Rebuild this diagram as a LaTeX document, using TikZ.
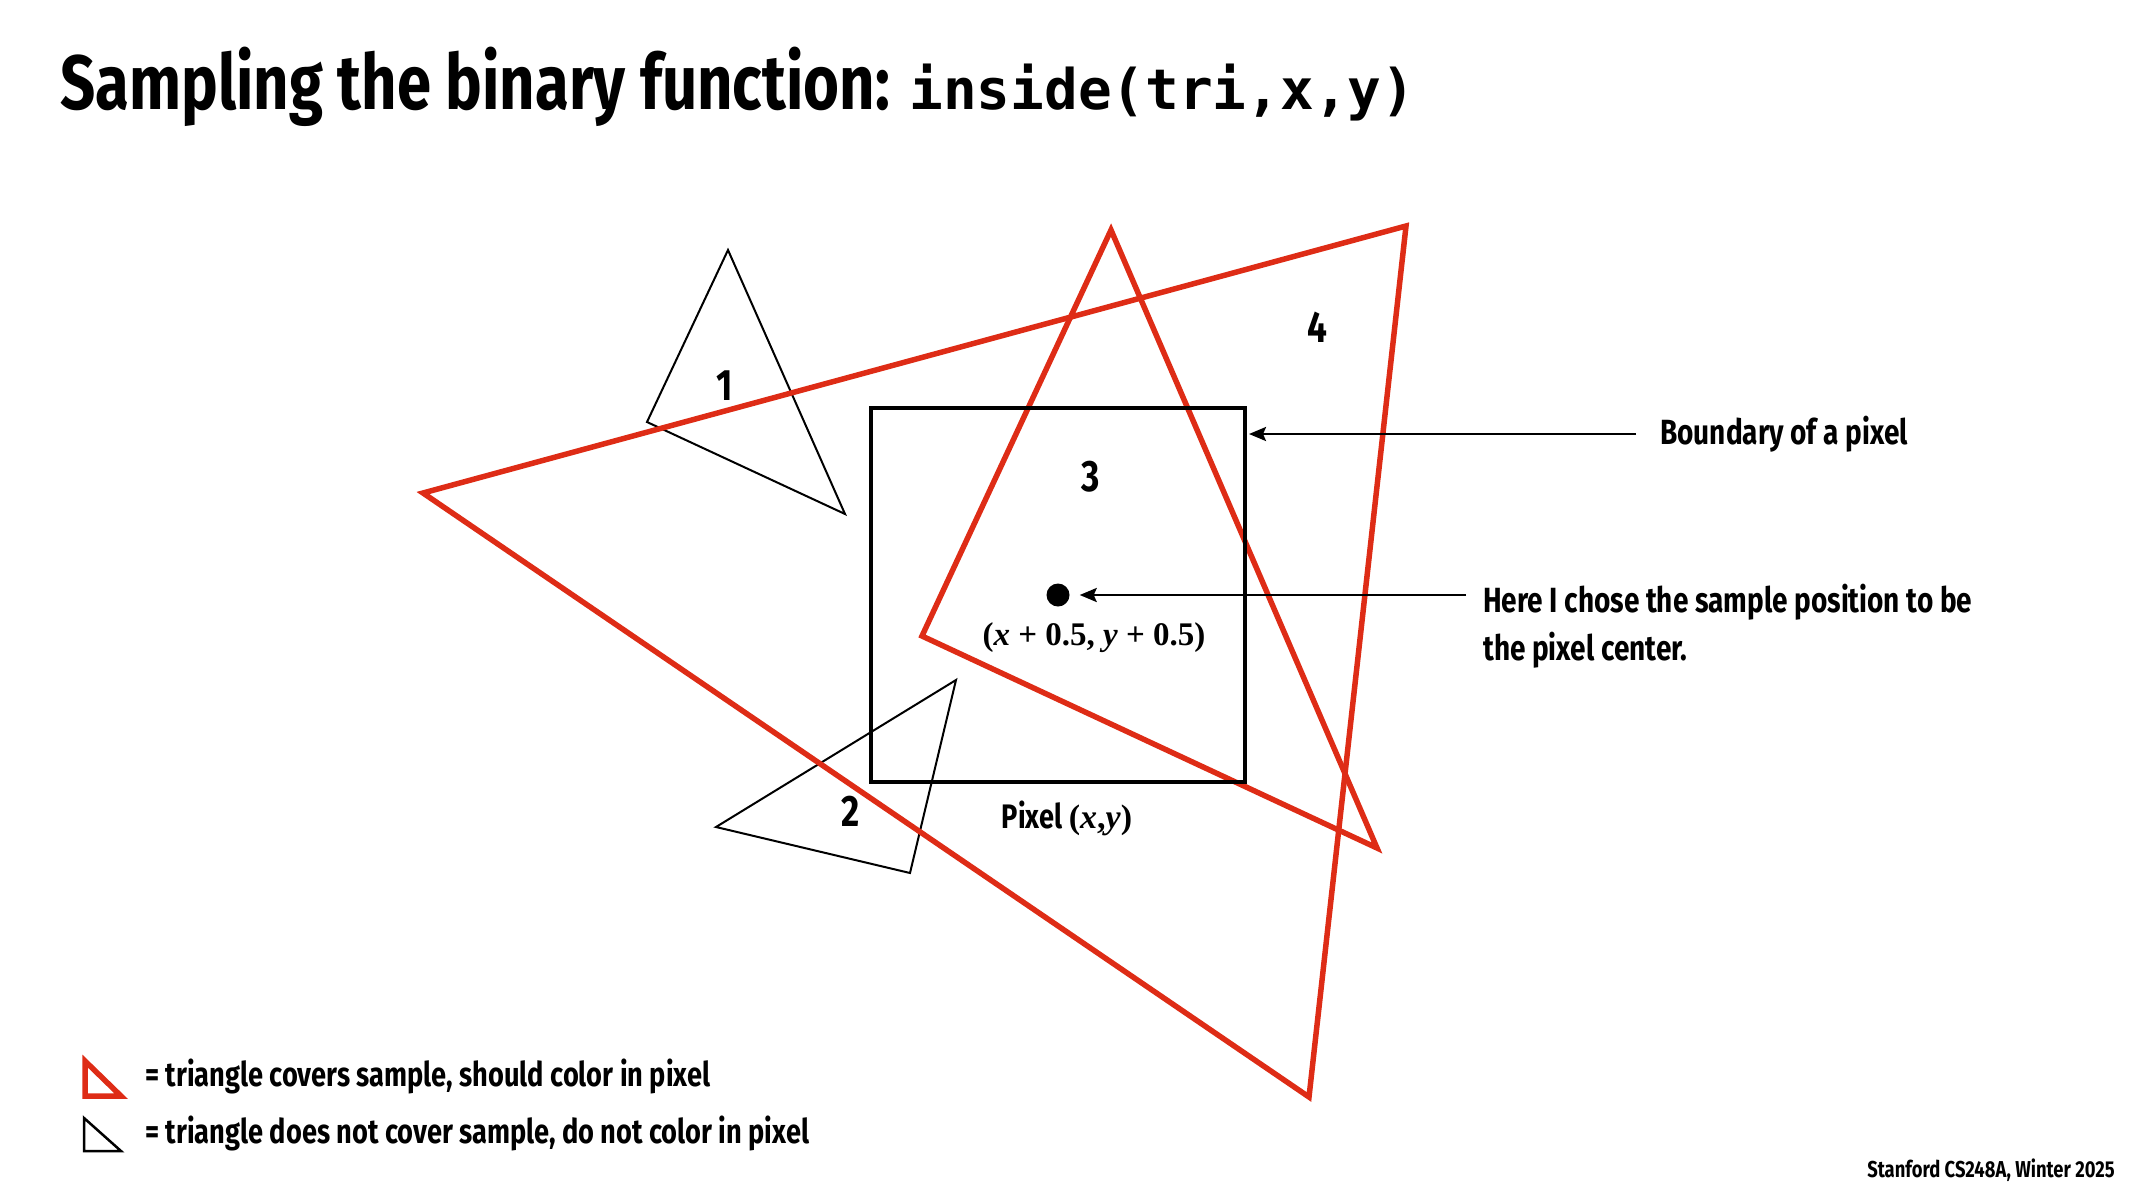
\documentclass[tikz,border=0pt]{standalone}
\usepackage{fontspec}
\setmainfont{Fira Sans}[FakeStretch=0.8]
\newfontfamily\codefont{DejaVu Sans Mono}
\newfontfamily\timesfont{Liberation Serif}
\usetikzlibrary{arrows.meta, positioning}
\definecolor{trired}{RGB}{222,44,22}

\begin{document}
\begin{tikzpicture}[x=1pt, y=-1pt,
    redtri/.style={draw=trired, line width=5.5pt},
    thintri/.style={draw=black, line width=2pt},
    arr/.style={-{Stealth[length=17pt, width=14pt, inset=3pt]}, line width=2.5pt},
    num/.style={font=\fontsize{44}{44}\selectfont\bfseries, inner sep=0pt},
    lbl/.style={font=\fontsize{35}{47.5}\selectfont\bfseries, align=left, inner sep=0pt},
    key/.style={font=\fontsize{34}{34}\selectfont\bfseries, inner sep=0pt, anchor=west},
    coord/.style={font=\timesfont\fontsize{33}{33}\selectfont\bfseries, inner sep=0pt}
]
\useasboundingbox (0,0) rectangle (2133,1200);

% title
\node[anchor=base west, inner sep=0pt, font=\fontsize{77}{80}\selectfont\bfseries] (title) at (60,109)
    {Sampling the binary function: {\codefont\fontsize{56}{56}\selectfont\bfseries inside(tri,x,y)}};

% triangles that miss the sample
\draw[thintri] (728,250) -- (647,422) -- (845,514) -- cycle;
\draw[thintri] (956,680) -- (716,827) -- (910,873) -- cycle;

% triangles that cover the sample
\draw[redtri] (423,493) -- (1406,226) -- (1309,1097) -- cycle;
\draw[redtri] (1111,230) -- (922,636) -- (1377,848) -- cycle;

% the pixel and its sample
\node[draw, line width=4pt, minimum size=374pt, inner sep=0pt] (pixel) at (1058,595) {};
\node[circle, fill, minimum size=23pt, inner sep=0pt] (sample) at (pixel.center) {};
\node[coord] (center) at (1094,638) {(\textit{x} + 0.5, \textit{y} + 0.5)};
\node[key, anchor=center] (pixlbl) at (1067,818) {Pixel {\timesfont(\textit{x},\textit{y})}};

\node[num] (n1) at (725,386) {1};
\node[num] (n2) at (851,811) {2};
\node[num] (n3) at (1091,477) {3};
\node[num] (n4) at (1317,327) {4};

% callouts
\node[lbl, anchor=west] (bnd) at (1660,434) {Boundary of a pixel};
\node[lbl, anchor=north west] (note) at (1483,584) {Here I chose the sample position to be\\the pixel center.};
\draw[arr, shorten >=2pt] ([xshift=-24pt]bnd.west) -- (bnd.west -| pixel.east);
\draw[arr, shorten >=10pt] ([xshift=-17pt]note.west |- sample) -- (sample);

% legend
\draw[redtri] (85,1061) -- (85,1096) -- (121,1096) -- cycle;
\draw[thintri, line width=2.5pt] (84,1118) -- (84,1151) -- (121,1151) -- cycle;
\node[key] (keyred) at (145,1076) {= triangle covers sample, should color in pixel};
\node[key] (keyblack) at (145,1133) {= triangle does not cover sample, do not color in pixel};

\node[font=\fontsize{23}{23}\selectfont\bfseries, anchor=east, inner sep=0pt] (credit) at (2115,1170) {Stanford CS248A, Winter 2025};
\end{tikzpicture}
\end{document}
